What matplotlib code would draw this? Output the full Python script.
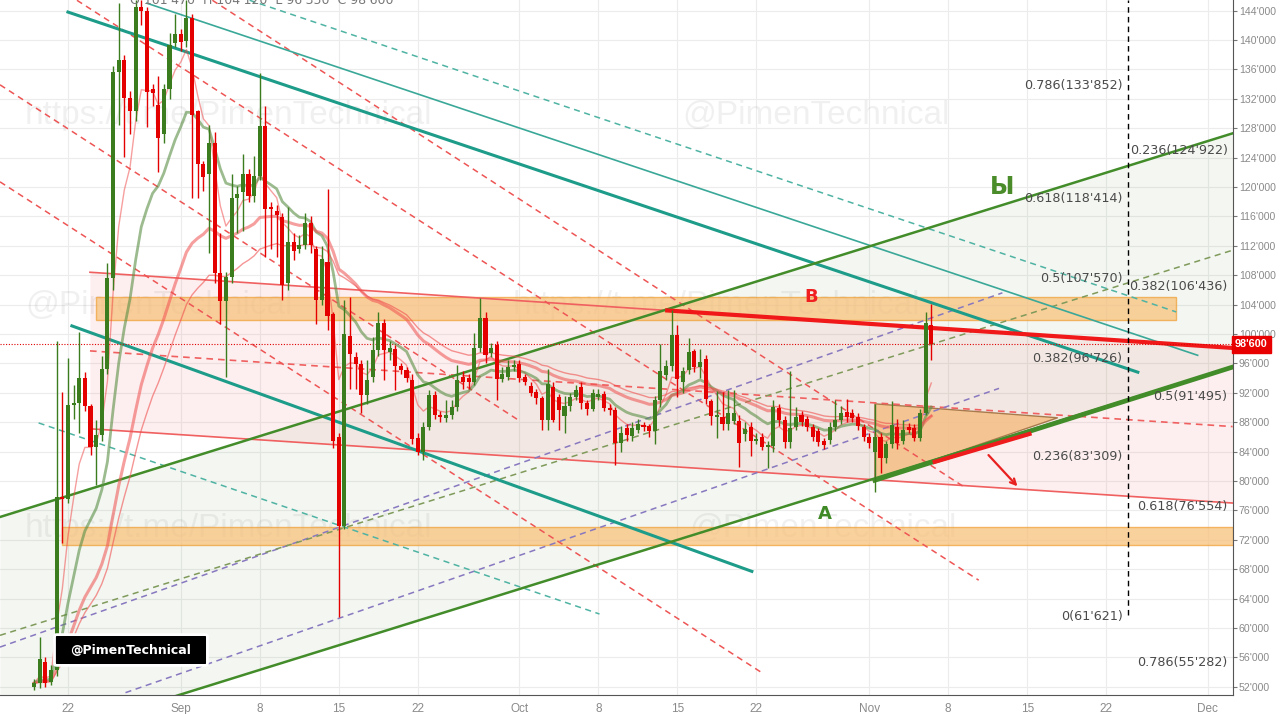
import numpy as np
import matplotlib.pyplot as plt
from matplotlib.patches import Polygon, Rectangle, FancyBboxPatch
from matplotlib.ticker import FixedLocator, FuncFormatter

# 12h candles, prices in thousands; first candle opens 19 Aug (day -3, day 0 = 22 Aug)
first_day = -3.0
opens = [52.0, 52.5, 55.4, 52.7, 54.3, 77.8, 77.5, 90.3, 90.6, 94.0,
         90.2, 84.6, 86.3, 95.2, 107.6, 135.6, 137.3, 132.1, 130.3, 144.5,
         144.0, 133.3, 131.2, 127.2, 133.3, 139.6, 140.8, 139.9, 143.0, 130.3,
         123.1, 121.8, 126.0, 108.3, 104.5, 107.8, 118.5, 119.3, 121.8, 118.8,
         121.5, 128.3, 117.2, 116.7, 115.9, 106.9, 112.5, 111.6, 112.1, 115.1,
         111.6, 104.6, 109.8, 102.7, 86.0, 73.9, 99.7, 96.9, 95.9, 91.7,
         94.1, 97.8, 101.5, 97.6, 98.0, 95.6, 95.1, 93.7, 85.9, 84.0,
         87.4, 91.7, 89.0, 88.6, 89.0, 90.1, 94.1, 94.0, 93.5, 98.1,
         102.2, 97.4, 98.5, 93.9, 94.2, 95.5, 95.9, 94.1, 92.9, 92.1,
         91.3, 88.3, 92.8, 91.4, 88.8, 90.2, 91.4, 92.8, 90.6, 89.8,
         91.4, 91.8, 89.9, 89.6, 85.2, 87.2, 86.1, 87.0, 87.6, 87.5,
         86.8, 91.0, 94.4, 95.6, 99.9, 93.5, 95.1, 97.7, 95.5, 96.6,
         90.9, 88.7, 88.7, 87.7, 88.2, 88.2, 86.4, 87.3, 85.4, 86.0,
         84.6, 84.8, 89.9, 88.3, 85.3, 87.3, 89.0, 88.4, 87.3, 86.8,
         85.5, 85.6, 87.3, 88.3, 89.4, 89.2, 88.7, 87.3, 86.0, 84.0,
         86.0, 83.1, 85.0, 87.3, 85.4, 87.3, 87.2, 85.9, 89.3, 101.2]
highs = [53.1, 58.8, 56.0, 55.0, 99.0, 92.1, 96.7, 93.0, 100.3, 94.8,
         90.5, 88.3, 97.0, 109.7, 136.5, 145.0, 138.0, 133.0, 145.4, 145.4,
         144.5, 134.0, 135.1, 134.0, 141.0, 143.6, 141.5, 145.4, 143.5, 130.5,
         123.5, 128.4, 127.5, 113.7, 108.5, 121.8, 120.1, 124.5, 122.5, 124.2,
         135.5, 131.0, 118.0, 117.5, 116.5, 117.3, 113.7, 113.5, 116.5, 116.0,
         112.0, 112.0, 119.7, 103.0, 86.5, 104.6, 105.0, 97.5, 96.5, 96.5,
         99.6, 103.0, 102.0, 99.0, 98.5, 96.0, 95.5, 94.5, 86.5, 88.0,
         92.4, 92.3, 89.5, 91.0, 91.0, 95.8, 95.0, 94.5, 100.1, 104.9,
         103.0, 98.8, 99.0, 95.5, 96.5, 96.5, 96.5, 94.5, 93.5, 92.5,
         91.5, 95.3, 93.5, 91.8, 91.5, 92.0, 93.0, 93.5, 91.0, 92.5,
         92.5, 92.2, 90.5, 90.0, 87.5, 87.7, 88.0, 88.5, 88.0, 87.8,
         91.5, 98.6, 96.5, 103.3, 101.2, 95.5, 99.5, 98.0, 98.0, 97.2,
         91.2, 92.2, 92.1, 92.4, 92.4, 89.0, 88.0, 88.0, 86.5, 86.5,
         85.5, 91.0, 90.5, 88.8, 95.0, 90.0, 89.5, 88.8, 87.8, 87.2,
         85.8, 88.0, 91.0, 90.2, 91.1, 89.8, 89.2, 87.8, 86.5, 90.5,
         86.5, 85.5, 90.9, 88.5, 88.3, 87.9, 87.8, 89.8, 103.0, 104.1]
lows = [51.6, 51.8, 52.0, 52.2, 53.5, 71.6, 77.0, 88.5, 86.5, 89.5,
        83.5, 79.5, 85.5, 94.5, 106.0, 128.4, 124.1, 127.2, 129.0, 142.0,
        128.2, 131.0, 122.0, 126.0, 132.0, 139.0, 138.5, 139.0, 118.5, 118.5,
        119.5, 111.0, 107.0, 101.4, 94.1, 107.0, 113.7, 114.0, 118.0, 118.0,
        121.0, 110.5, 111.6, 110.5, 104.6, 106.0, 110.0, 111.0, 111.5, 111.0,
        101.4, 104.0, 100.5, 84.5, 61.5, 73.5, 92.5, 92.5, 89.3, 90.5,
        93.5, 97.0, 93.7, 96.5, 92.4, 94.5, 93.5, 85.0, 83.5, 82.8,
        87.0, 88.5, 88.0, 88.0, 88.5, 89.5, 92.5, 92.5, 93.0, 97.5,
        96.1, 96.8, 91.0, 93.5, 93.7, 95.0, 93.5, 93.0, 91.5, 90.5,
        86.9, 86.9, 88.0, 86.9, 86.5, 89.5, 91.0, 89.8, 89.0, 89.5,
        91.0, 89.5, 89.0, 82.2, 84.0, 85.5, 85.5, 86.5, 86.8, 86.0,
        85.0, 90.0, 93.8, 95.0, 91.4, 92.0, 94.5, 94.8, 94.0, 90.5,
        87.6, 85.8, 87.0, 86.9, 87.8, 81.9, 85.5, 83.4, 85.0, 84.2,
        81.7, 84.0, 87.5, 84.5, 84.5, 87.0, 87.5, 86.8, 85.5, 84.8,
        84.3, 85.0, 86.8, 87.8, 88.0, 88.0, 87.0, 85.5, 84.5, 78.5,
        81.1, 82.5, 84.5, 84.3, 85.0, 86.5, 85.5, 85.5, 89.0, 96.5]
closes = [52.5, 55.8, 52.5, 54.3, 77.8, 77.5, 90.3, 90.6, 94.0, 90.2,
          84.6, 86.3, 95.2, 107.6, 135.6, 137.3, 132.1, 130.3, 144.5, 144.0,
          132.9, 132.8, 126.7, 133.3, 139.3, 140.8, 139.7, 143.0, 129.8, 123.1,
          121.4, 126.0, 108.3, 104.5, 107.8, 118.5, 119.0, 121.8, 118.8, 121.5,
          128.3, 117.0, 117.0, 116.2, 106.7, 112.5, 111.3, 112.1, 115.1, 112.1,
          104.6, 110.2, 102.5, 85.4, 73.9, 100.0, 97.3, 95.9, 91.7, 93.7,
          97.8, 101.5, 97.8, 98.1, 95.6, 95.1, 94.0, 85.7, 84.0, 87.4,
          91.7, 89.0, 88.7, 89.0, 90.1, 93.7, 93.5, 93.5, 98.1, 102.2,
          97.2, 98.1, 93.9, 94.6, 95.5, 95.8, 94.0, 93.5, 92.0, 91.3,
          88.3, 93.2, 88.3, 89.7, 90.2, 91.4, 92.4, 90.6, 89.8, 92.0,
          91.8, 89.9, 89.6, 85.2, 86.5, 86.3, 87.2, 87.7, 87.4, 86.8,
          91.0, 95.0, 95.6, 99.9, 93.9, 95.0, 97.5, 95.5, 96.2, 91.2,
          88.8, 89.0, 87.7, 89.2, 89.2, 85.2, 87.1, 85.4, 85.7, 84.6,
          84.8, 90.0, 88.3, 85.3, 87.2, 88.7, 88.0, 87.3, 86.0, 85.3,
          84.9, 87.3, 88.3, 89.3, 88.7, 88.6, 87.5, 86.0, 85.2, 86.0,
          83.1, 85.0, 87.6, 85.2, 86.9, 87.0, 85.9, 89.3, 101.5, 98.6]
last_price = 98.6

# axis ticks (days from 22 Aug)
x_ticks = [0, 10, 17, 24, 31, 40, 47, 54, 61, 71, 78, 85, 92, 101]
x_labels = ['22', 'Sep', '8', '15', '22', 'Oct', '8', '15', '22', 'Nov', '8', '15', '22', 'Dec']
y_ticks = list(range(52, 145, 4))

# drawings: (day, price) end points
green_up = [(-6.02, 75.1), (103.2, 127.3)]
green_low = [(-6.02, 43.3), (103.2, 95.5)]
green_low_bold = [(71.5, 80.1), (103.2, 95.5)]
red_up = [(1.95, 108.4), (103.2, 98.1)]
red_low = [(1.95, 87.1), (103.2, 77.0)]
red_mid = [(1.95, 97.7), (103.2, 87.4)]
red_b = [(53.1, 103.2), (103.2, 98.1)]
teal_bold = [[(0.0, 143.8), (94.8, 94.8)], [(0.35, 101.1), (60.6, 67.7)]]
teal_thin = [(7.0, 145.0), (100.1, 97.1)]
teal_dash = [[(16.1, 145.4), (98.2, 103.0)], [(-2.6, 87.9), (47.1, 61.9)]]
purple_dash = [[(-6.02, 57.4), (82.8, 105.6)], [(5.1, 51.2), (82.5, 92.6)]]
olive_dash = [(-6.02, 59.0), (103.2, 111.4)]
red_dash = [[(-6.02, 133.9), (40.0, 88.2)],
            [(-6.02, 120.7), (61.5, 53.9)],
            [(0.8, 145.4), (80.7, 66.5)],
            [(12.8, 145.4), (79.6, 79.0)]]
orange_bands = [(2.5, 98.2, 101.9, 105.0), (-0.5, 103.2, 71.3, 73.7)]
triangle = [(71.5, 90.5), (71.5, 80.1), (87.7, 88.6)]
break_line = [(76.8, 82.6), (85.2, 86.4)]
arrow = [(81.4, 83.8), (84.3, 79.0)]
fib_left = [(0.786, 133.852), (0.618, 118.414), (0.5, 107.570), (0.382, 96.726),
            (0.236, 83.309), (0, 61.621)]
fib_right = [(0.236, 124.922), (0.382, 106.436), (0.5, 91.495), (0.618, 76.554),
             (0.786, 55.282)]
vline_day = 93.9


def price_fmt(v):
    return "{:,}".format(int(round(v * 1000))).replace(",", "'")


def ema(vals, span):
    a = 2.0 / (span + 1)
    out = [vals[0]]
    for v in vals[1:]:
        out.append(a * v + (1 - a) * out[-1])
    return np.array(out)


def seg(ax, pts, **kw):
    ax.plot([pts[0][0], pts[1][0]], [pts[0][1], pts[1][1]], **kw)


def line_at(pts, x):
    (x0, y0), (x1, y1) = pts
    return y0 + (y1 - y0) * (np.asarray(x) - x0) / (x1 - x0)


fig = plt.figure(figsize=(12.8, 7.14), dpi=100)
ax = fig.add_axes([0, 0.0266, 0.963, 0.9734])
ax.set_xlim(-6.02, 103.2)
ax.set_ylim(50.88, 145.44)

# grid
for t in x_ticks:
    ax.axvline(t, color='#ececec', lw=0.8, zorder=0)
for t in y_ticks:
    ax.axhline(t, color='#ececec', lw=0.8, zorder=0)

# watermarks
wm = dict(transform=ax.transAxes, fontsize=24, color='#000000', alpha=0.06,
          va='center', ha='left', zorder=0.5, family='Liberation Sans')
for (px, py, s) in [(25, 115, 'https://t.me/PimenTechnical'), (683, 115, '@PimenTechnical'),
                    (25, 305, '@PimenTechnical'), (513, 305, 'https://t.me/PimenTechnical'),
                    (25, 528, 'https://t.me/PimenTechnical'), (690, 528, '@PimenTechnical')]:
    ax.text(px / 1233, (695 - py) / 695, s, **wm)

# channel fills
xs = np.linspace(-6.02, 103.2, 50)
ax.fill_between(xs, line_at(green_low, xs), line_at(green_up, xs),
                color=(0.40, 0.58, 0.30), alpha=0.08, lw=0, zorder=1)
xr = np.linspace(red_up[0][0], 103.2, 50)
ax.fill_between(xr, line_at(red_low, xr), line_at(red_up, xr),
                color=(0.95, 0.40, 0.40), alpha=0.10, lw=0, zorder=1)

# orange bands
for x0, x1, y0, y1 in orange_bands:
    ax.add_patch(Rectangle((x0, y0), x1 - x0, y1 - y0, fc='#f8c27c', ec='#f0a23a',
                           lw=1, alpha=0.75, zorder=2))
ax.add_patch(Polygon(triangle, closed=True, fc='#f5bf86', ec='#9a6a3a', lw=1,
                     alpha=0.85, zorder=2))

# drawn lines
dash = (0, (4, 3))
seg(ax, red_up, color='#f06060', lw=1.2, zorder=3)
seg(ax, red_low, color='#f06060', lw=1.2, zorder=3)
seg(ax, red_mid, color='#f06060', lw=1.2, ls=dash, zorder=3)
for p in red_dash:
    seg(ax, p, color='#ee5555', lw=1.1, ls=dash, zorder=3)
for p in purple_dash:
    seg(ax, p, color='#8878c0', lw=1.1, ls=dash, zorder=3)
seg(ax, olive_dash, color='#7f9a5a', lw=1.1, ls=dash, zorder=3)
for p in teal_dash:
    seg(ax, p, color='#4fb3a3', lw=1.1, ls=dash, zorder=3)
seg(ax, teal_thin, color='#3aa898', lw=1.2, zorder=3)
for p in teal_bold:
    seg(ax, p, color='#1e9c8a', lw=2.2, zorder=3)
seg(ax, green_up, color='#438c2a', lw=1.8, zorder=3)
seg(ax, green_low, color='#438c2a', lw=1.8, zorder=3)
seg(ax, green_low_bold, color='#438c2a', lw=3.4, zorder=3)
seg(ax, red_b, color='#f01818', lw=3.0, zorder=3)
seg(ax, break_line, color='#ee1c1c', lw=3.0, zorder=6)
ax.annotate('', xy=arrow[1], xytext=arrow[0],
            arrowprops=dict(arrowstyle='->', color='#e82020', lw=1.6), zorder=6)
ax.plot([vline_day, vline_day], [61.8, 145.44], color='black', lw=1, ls=dash, zorder=3)

# moving averages
cx = first_day + 0.5 * np.arange(len(closes))
cl = np.array(closes)
ax.plot(cx, ema(cl, 6), color='#f04040', lw=1.0, alpha=0.5, zorder=4)
ax.plot(cx, ema(cl, 14), color='#5a8f45', lw=2.0, alpha=0.6, zorder=4)
ax.plot(cx, ema(cl, 30), color='#f05050', lw=2.2, alpha=0.55, zorder=4)
ax.plot(cx, ema(cl, 38), color='#f05050', lw=1.0, alpha=0.6, zorder=4)

# candles
op = np.array(opens)
up = cl >= op
col = np.where(up, '#3b7d1e', '#e50000')
ax.vlines(cx, lows, highs, colors=col, lw=1.0, zorder=5)
body_low = np.minimum(op, cl)
body_h = np.maximum(np.abs(cl - op), 0.25)
ax.bar(cx, body_h, bottom=body_low, width=0.36, color=col, lw=0, zorder=5)

# last price line + label
ax.axhline(last_price, color='#e00000', lw=0.8, ls=(0, (1, 1.5)), zorder=3)
ax.text(1.002, last_price, price_fmt(last_price), transform=ax.get_yaxis_transform(),
        color='white', fontsize=7.8, fontweight='bold', va='center', ha='left',
        family='Liberation Sans', clip_on=False, zorder=10,
        bbox=dict(boxstyle='square,pad=0.3', fc='#e80000', ec='#e80000'))

# fib labels
fl = dict(fontsize=9.2, color='#4a4a4a', ha='right', va='center', zorder=7)
for lvl, v in fib_left:
    ax.text(93.45, v, '{}({})'.format(lvl, price_fmt(v)), **fl)
for lvl, v in fib_right:
    ax.text(102.75, v, '{}({})'.format(lvl, price_fmt(v)), **fl)

# letters
ax.text(82.8, 120.0, 'Ы', color='#4a8c2a', fontsize=17, fontweight='bold', ha='center', va='center', zorder=7)
ax.text(65.9, 105.0, 'В', color='#f02020', fontsize=13, fontweight='bold', ha='center', va='center', zorder=7)
ax.text(67.1, 75.5, 'А', color='#3f8a26', fontsize=13, fontweight='bold', ha='center', va='center', zorder=7)

# black signature box
ax.add_patch(FancyBboxPatch((57 / 1233, (695 - 664) / 695), 148 / 1233, 28 / 695,
                            boxstyle='round,pad=0.002', transform=ax.transAxes,
                            fc='black', ec='white', lw=2, zorder=8))
ax.text(131 / 1233, (695 - 650) / 695, '@PimenTechnical', transform=ax.transAxes,
        color='white', fontsize=9, fontweight='bold', ha='center', va='center', zorder=9)

# top legend (cut off)
fig.text(130 / 1280, 1.0, 'O 101\'470  H 104\'120  L 96\'350  C 98\'600', color='#777777',
         fontsize=9, va='center', ha='left')

# axes styling
ax.xaxis.set_major_locator(FixedLocator(x_ticks))
ax.set_xticklabels(x_labels)
ax.yaxis.tick_right()
ax.yaxis.set_major_locator(FixedLocator(y_ticks))
ax.yaxis.set_major_formatter(FuncFormatter(lambda v, p: price_fmt(v)))
ax.tick_params(axis='y', colors='#777777', labelcolor='#8a8a8a', labelsize=7.6, length=3, pad=1.5)
ax.tick_params(axis='x', colors='#777777', labelcolor='#8a8a8a', labelsize=8.5, length=0, pad=6)
for lbl in ax.get_xticklabels() + ax.get_yticklabels():
    lbl.set_family('Liberation Sans')
for s in ['left', 'top']:
    ax.spines[s].set_visible(False)
for s in ['right', 'bottom']:
    ax.spines[s].set_color('#555555')
ax.set_facecolor('white')

fig.savefig('out.png', dpi=100)
